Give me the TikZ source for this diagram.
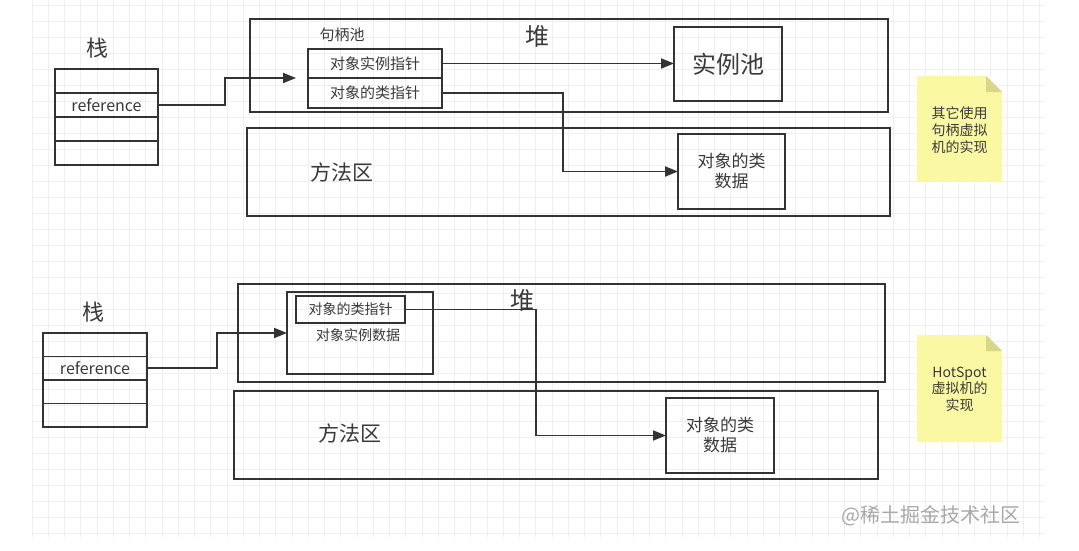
\documentclass[tikz,border=0pt]{standalone}
\usepackage{fontspec}
\setmainfont{Noto Sans CJK SC}
\usetikzlibrary{arrows.meta}
\definecolor{ln}{HTML}{333333}
\definecolor{tx}{HTML}{3A3A3A}
\definecolor{notefill}{HTML}{FBF8A3}
\definecolor{notefold}{HTML}{D8D68A}
\definecolor{gridc}{HTML}{EFEFEF}
\definecolor{wm}{HTML}{A8A8A8}
\begin{document}
\begin{tikzpicture}[x=1pt,y=-1pt,
  box/.style={draw=ln, line width=1.8pt, inner sep=0pt, outer sep=0pt, text=tx, align=center},
  lbl/.style={text=tx, inner sep=0pt, align=center},
  arr/.style={draw=ln, line width=1.8pt, -{Triangle[length=13pt,width=10pt]}},
  note/.style={fill=notefill},
  fold/.style={fill=notefold}]
\useasboundingbox (0,0) rectangle (1079,551);
\fill[white] (0,0) rectangle (1079,551);
% grid
\foreach \i in {0,...,62} \draw[gridc, line width=0.8pt] ({32+\i*16.25},0) -- ({32+\i*16.25},537);
\foreach \j in {0,...,33} \draw[gridc, line width=0.8pt] (32,{5+\j*16}) -- (1045,{5+\j*16});

% ===== top section =====
\node[lbl, font=\fontsize{22}{26}\selectfont] (st1) at (97,48) {栈};
\node[box, minimum width=103pt, minimum height=24pt] (s1a) at (106.5,81) {};
\node[box, minimum width=103pt, minimum height=24pt, font=\fontsize{16}{19}\selectfont] (s1b) at (106.5,105) {reference};
\node[box, minimum width=103pt, minimum height=24pt] (s1c) at (106.5,129) {};
\node[box, minimum width=103pt, minimum height=24pt] (s1d) at (106.5,153) {};

\node[box, minimum width=638pt, minimum height=93pt] (heap1) at (569,65.5) {};
\node[lbl, font=\fontsize{24}{28}\selectfont] (hl1) at (537,36) {堆};
\node[lbl, font=\fontsize{15}{18}\selectfont] (hpl) at (342,35) {句柄池};
\node[box, minimum width=134pt, minimum height=29pt, font=\fontsize{15}{18}\selectfont] (hp1a) at (375,63.5) {对象实例指针};
\node[box, minimum width=134pt, minimum height=30pt, font=\fontsize{15}{18}\selectfont] (hp1b) at (375,93) {对象的类指针};
\node[box, minimum width=108pt, minimum height=74pt, font=\fontsize{24}{28}\selectfont] (pool) at (728,64) {实例池};

\node[box, minimum width=643pt, minimum height=88pt] (method1) at (568.5,172) {};
\node[lbl, font=\fontsize{21}{25}\selectfont] (ml1) at (342,172) {方法区};
\node[box, minimum width=107pt, minimum height=75pt, font=\fontsize{17}{20}\selectfont] (cd1) at (731.5,171.5) {对象的类\\数据};

\coordinate (j1) at (225,0);
\coordinate (j2) at (563,0);
\draw[arr, shorten >=12pt] (s1b.east) -- (s1b.east -| j1) |- (hp1a.south west);
\draw[arr] (hp1a.east) -- (hp1a.east -| pool.west);
\draw[arr] (hp1b.east) -- (hp1b.east -| j2) |- (cd1.west);

\fill[note] (917,76) -- (986,76) -- (1002,92) -- (1002,182) -- (917,182) -- cycle;
\fill[fold] (986,76) -- (1002,92) -- (986,92) -- cycle;
\node[lbl, font=\fontsize{14}{17}\selectfont] (n1) at (959.5,130) {其它使用\\句柄虚拟\\机的实现};

% ===== bottom section =====
\node[lbl, font=\fontsize{22}{26}\selectfont] (st2) at (93,312) {栈};
\node[box, minimum width=104pt, minimum height=23.5pt] (s2a) at (95,344.75) {};
\node[box, minimum width=104pt, minimum height=23.5pt, font=\fontsize{16}{19}\selectfont] (s2b) at (95,368.25) {reference};
\node[box, minimum width=104pt, minimum height=23.5pt] (s2c) at (95,391.75) {};
\node[box, minimum width=104pt, minimum height=23.5pt] (s2d) at (95,415.25) {};

\node[box, minimum width=647pt, minimum height=98pt] (heap2) at (561.5,333) {};
\node[box, minimum width=146pt, minimum height=82pt] (inst2) at (360,333) {};
\node[box, minimum width=109pt, minimum height=27pt, font=\fontsize{14}{17}\selectfont] (ptr2) at (350.5,309.5) {对象的类指针};
\node[lbl, font=\fontsize{14}{17}\selectfont] (il2) at (358,335) {对象实例数据};

\node[box, minimum width=644pt, minimum height=88pt] (method2) at (556,435) {};
\node[lbl, font=\fontsize{21}{25}\selectfont] (ml2) at (350,433) {方法区};
\node[box, minimum width=108pt, minimum height=75pt, font=\fontsize{17}{20}\selectfont] (cd2) at (720,435.5) {对象的类\\数据};

\coordinate (j3) at (217,0);
\coordinate (j4) at (536,0);
\draw[arr] (s2b.east) -- (s2b.east -| j3) |- (inst2.west);
\draw[arr] (ptr2.east) -- (ptr2.east -| j4) |- (cd2.west);
\node[lbl, font=\fontsize{24}{28}\selectfont] (hl2) at (522,300) {堆};

\fill[note] (917,335) -- (986,335) -- (1002,351) -- (1002,442) -- (917,442) -- cycle;
\fill[fold] (986,335) -- (1002,351) -- (986,351) -- cycle;
\node[lbl, font=\fontsize{14}{16.5}\selectfont] (n2) at (959.5,389) {HotSpot\\虚拟机的\\实现};

\node[inner sep=0pt, text=wm, font=\fontsize{20}{24}\selectfont] (wmk) at (931,516) {@稀土掘金技术社区};
\end{tikzpicture}
\end{document}
